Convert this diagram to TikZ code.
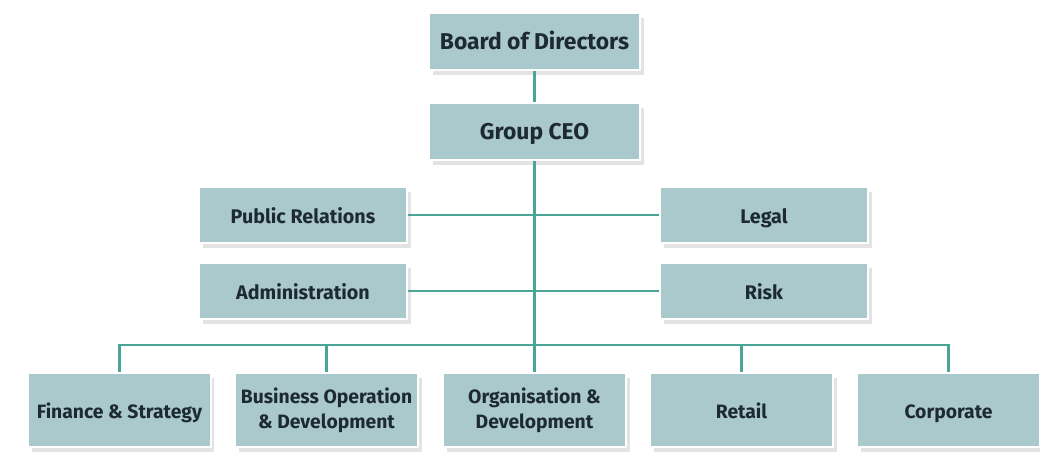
\documentclass[tikz,border=0pt]{standalone}
\usepackage{fontspec}
\setmainfont{Fira Sans}
\usetikzlibrary{positioning,shadows}

\definecolor{boxfill}{HTML}{A9C9CD}
\definecolor{linkline}{HTML}{4AA596}
\definecolor{boxtext}{HTML}{1E2A31}

\tikzset{
    unit/.style={rectangle, fill=boxfill, draw=white, line width=1.2pt,
        text=boxtext, align=center, inner sep=2pt,
        drop shadow={opacity=0.22, shadow xshift=2pt, shadow yshift=-3pt}},
    oneline/.style={text height=2ex, text depth=0.2ex},
    topunit/.style={unit, oneline, minimum width=4.22cm, minimum height=1.14cm,
        font=\bfseries\fontsize{13}{15}\selectfont},
    staffunit/.style={unit, oneline, minimum width=4.16cm, minimum height=1.12cm,
        font=\bfseries\fontsize{11.2}{13}\selectfont},
    division/.style={unit, minimum width=3.66cm, minimum height=1.48cm,
        font=\bfseries\fontsize{11}{14}\selectfont},
    link/.style={draw=linkline, line width=1.3pt}
}

\begin{document}
\begin{tikzpicture}[x=0.02cm, y=-0.02cm]

        \useasboundingbox[fill=white] (0,0) rectangle (1040,461);

        %Leitung
        \node[topunit] (Board) at (534.5,41.5) {Board of Directors};
        \node[topunit] (CEO) at (534.5,131.5) {Group CEO};

        %Stab
        \node[staffunit] (PR) at (303,215) {Public Relations};
        \node[staffunit] (Admin) at (303,291) {Administration};
        \node[staffunit] (Legal) at (764,215) {Legal};
        \node[staffunit] (Risk) at (764,291) {Risk};

        %Bereiche
        \node[division, oneline] (Finance) at (119.5,410) {Finance \& Strategy};
        \node[division] (BusOps) at (326.5,410) {Business Operation\\\& Development};
        \node[division] (OrgDev) at (534.5,410) {Organisation \&\\Development};
        \node[division, oneline] (Retail) at (741.5,410) {Retail};
        \node[division, oneline] (Corporate) at (948.5,410) {Corporate};

        \coordinate (Bus) at (534.5,345);

        \draw[link] (Board.south) -- (CEO.north);
        \draw[link] (CEO.south) -- (OrgDev.north);
        \draw[link] (PR.east) -- (Legal.west);
        \draw[link] (Admin.east) -- (Risk.west);
        \draw[link] (Finance.north) |- (Bus) -| (Corporate.north);
        \draw[link] (BusOps.north) -- (BusOps.north |- Bus);
        \draw[link] (Retail.north) -- (Retail.north |- Bus);
    \end{tikzpicture}
\end{document}
